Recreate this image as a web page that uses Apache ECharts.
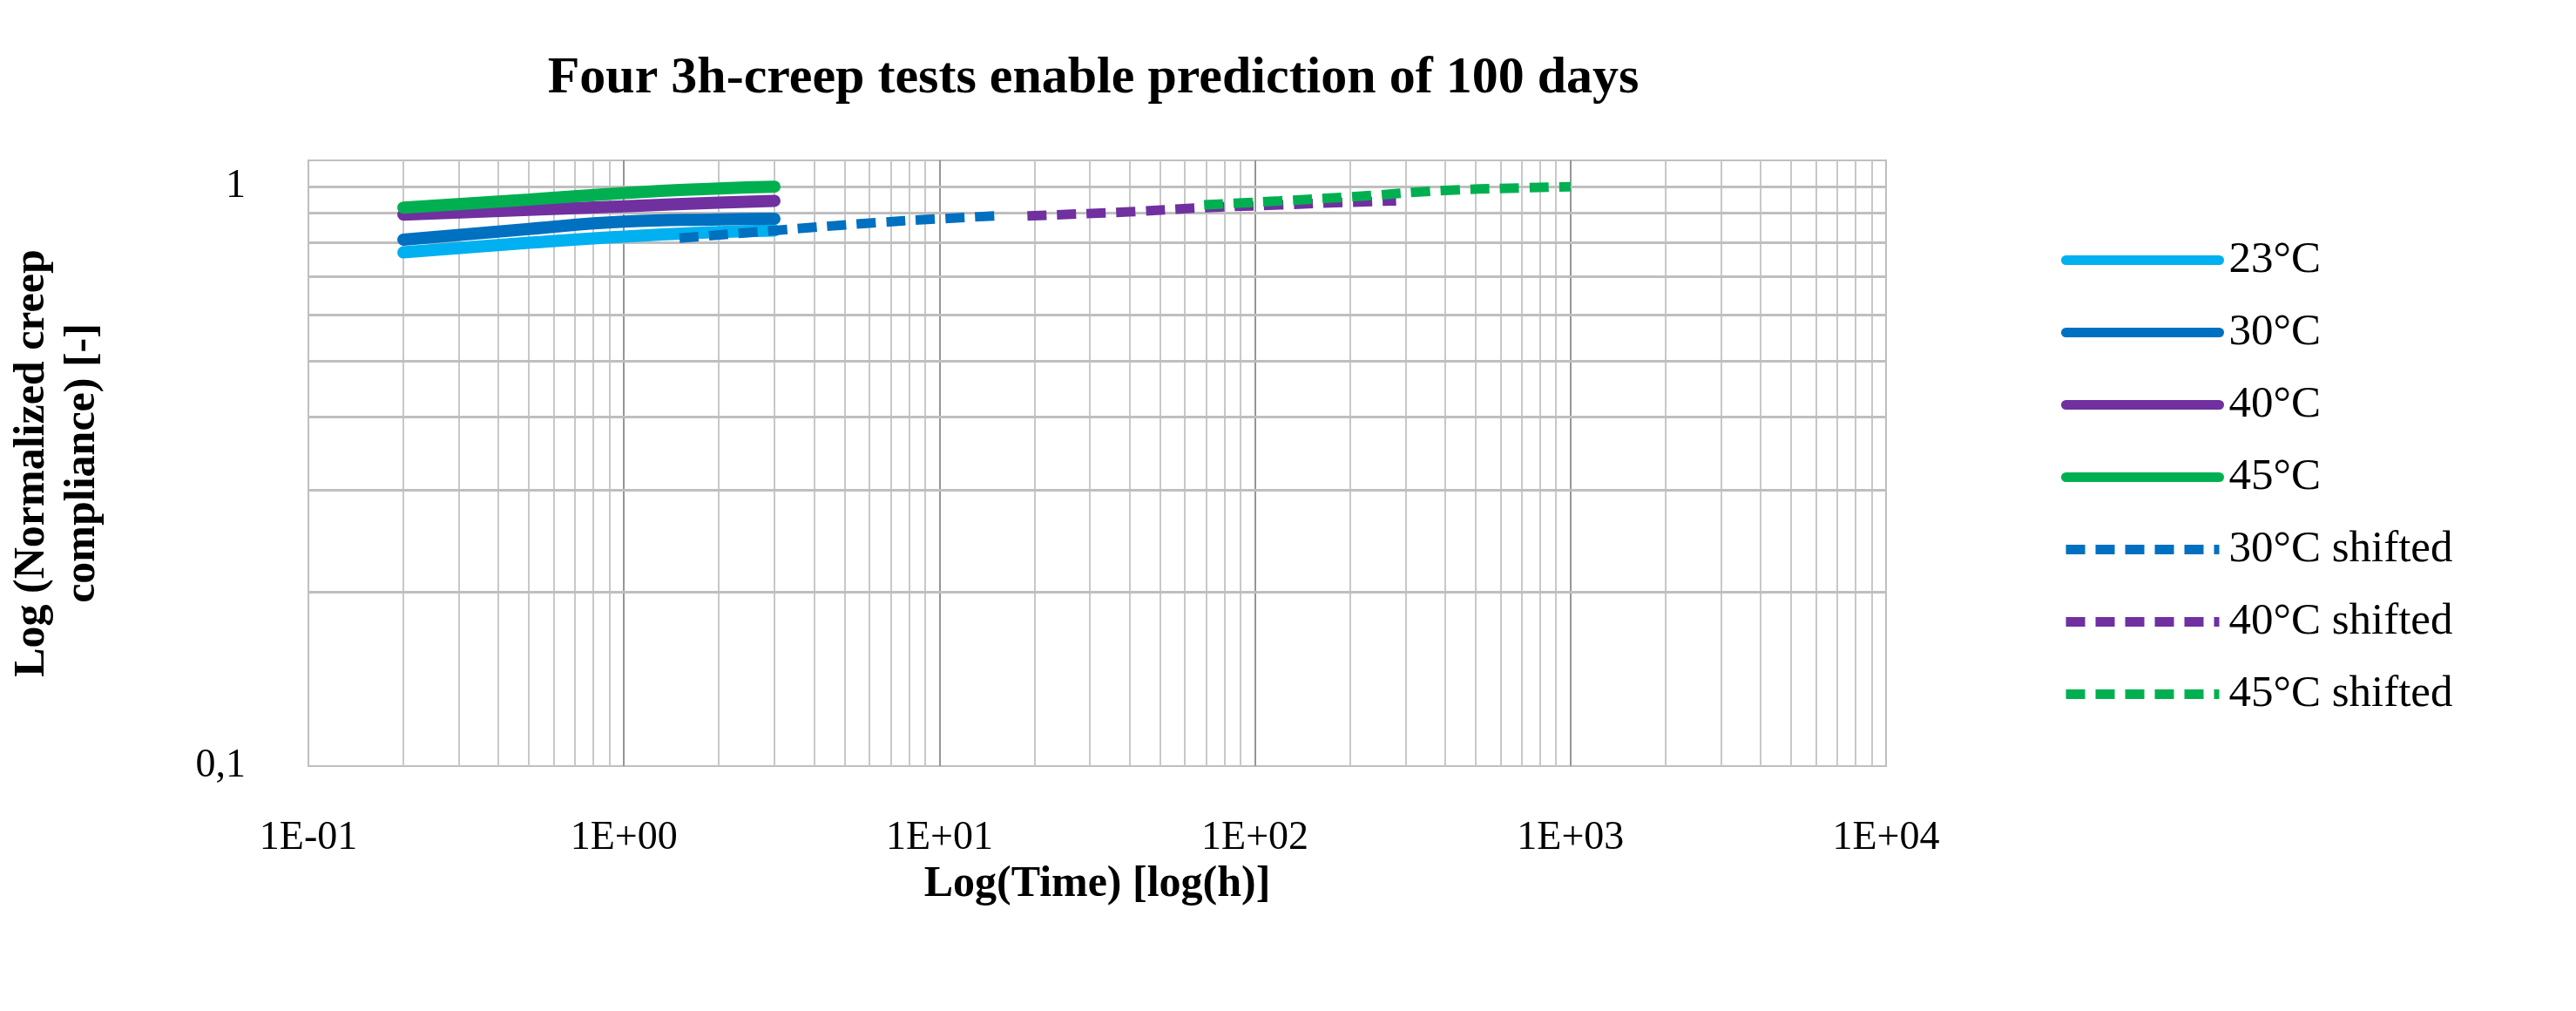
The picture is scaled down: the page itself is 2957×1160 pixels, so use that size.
<!DOCTYPE html>
<html><head><meta charset="utf-8">
<script src="https://cdn.jsdelivr.net/npm/echarts@6/dist/echarts.min.js"></script>
<style>html,body{margin:0;padding:0;background:#fff}#c{width:2957px;height:1160px}</style>
</head><body><div id="c"></div>
<script>
const t23 = [0.2, 0.5, 1, 2, 3];
const v23 = [0.77, 0.80, 0.82, 0.835, 0.84];
const t30 = [0.2, 0.5, 1, 2, 3];
const v30 = [0.81, 0.845, 0.87, 0.878, 0.88];
const t40 = [0.2, 0.5, 1, 2, 3];
const v40 = [0.895, 0.912, 0.925, 0.938, 0.945];
const t45 = [0.2, 0.5, 1, 2, 3];
const v45 = [0.92, 0.95, 0.975, 0.993, 1.0];
const t30s = [1.5, 3, 6, 10, 15];
const v30s = [0.815, 0.84, 0.865, 0.88, 0.89];
const t40s = [19, 40, 70, 120, 200, 280];
const v40s = [0.89, 0.905, 0.92, 0.93, 0.94, 0.945];
const t45s = [69, 120, 200, 400, 700, 1000];
const v45s = [0.93, 0.945, 0.96, 0.985, 0.995, 1.0];
const xTickLabels = {'-1':'1E-01','0':'1E+00','1':'1E+01','2':'1E+02','3':'1E+03','4':'1E+04'};

const pair = (t, v) => t.map((x, i) => [x, v[i]]);
const font = '"Liberation Serif", "DejaVu Serif", serif';

const minorX = [], majorX = [];
for (let e = -1; e < 4; e++) {
  for (let m = 2; m <= 9; m++) minorX.push(m * Math.pow(10, e));
  if (e > -1) majorX.push(Math.pow(10, e));
}
const gridY = [0.2,0.3,0.4,0.5,0.6,0.7,0.8,0.9,1];

const solid = (name, color, data) => ({
  name, type: 'line', data, showSymbol: false, symbol: 'none', smooth: true,
  lineStyle: { color, width: 14, cap: 'round' }, itemStyle: { color }, z: 5
});
const dashed = (name, color, data) => ({
  name, type: 'line', data, showSymbol: false, symbol: 'none', smooth: true,
  lineStyle: { color, width: 11, type: [22, 12], cap: 'butt' }, itemStyle: { color }, z: 6
});

const chart = echarts.init(document.getElementById('c'));
chart.setOption({
  animation: false,
  backgroundColor: '#fff',
  title: {
    text: 'Four 3h-creep tests enable prediction of 100 days',
    left: 1250, top: 55, textAlign: 'center',
    textStyle: { fontFamily: font, fontWeight: 'bold', fontSize: 60, color: '#000' }
  },
  grid: { left: 339, top: 184, width: 1826, height: 695, containLabel: false,
          show: true, borderColor: '#bfbfbf', borderWidth: 2 },
  legend: {
    orient: 'vertical', left: 2361, top: 268, itemWidth: 176, itemHeight: 14,
    itemGap: 32,
    itemStyle: { opacity: 0 },
    lineStyle: { width: 11 },
    textStyle: { fontFamily: font, fontSize: 51, color: '#000', padding: [0,0,0,6] },
    data: ['23°C','30°C','40°C','45°C','30°C shifted','40°C shifted','45°C shifted']
  },
  xAxis: {
    type: 'log', logBase: 10, min: 0.1, max: 10000,
    name: 'Log(Time) [log(h)]', nameLocation: 'middle', nameGap: 110,
    nameTextStyle: { fontFamily: font, fontWeight: 'bold', fontSize: 50, color: '#000' },
    axisLine: { show: false }, axisTick: { show: false }, splitLine: { show: false },
    axisLabel: { margin: 60, fontFamily: font, fontSize: 46, color: '#000',
      formatter: v => xTickLabels[String(Math.round(Math.log10(v)))] || '' }
  },
  yAxis: {
    type: 'log', logBase: 10, min: 0.1, max: 1.11,
    name: 'Log (Normalized creep\ncompliance) [-]', nameLocation: 'middle', nameGap: 230,
    nameTextStyle: { fontFamily: font, fontWeight: 'bold', fontSize: 50, color: '#000', lineHeight: 58 },
    axisLine: { show: false }, axisTick: { show: false }, splitLine: { show: false },
    axisLabel: { margin: 72, fontFamily: font, fontSize: 46, color: '#000', showMaxLabel: false,
      formatter: v => Math.abs(v - 0.1) < 1e-6 ? '0,1' : (Math.abs(v - 1) < 1e-6 ? '1' : '') }
  },
  series: [
    { name: 'grid', type: 'line', data: [], silent: true, z: 1,
      markLine: { silent: true, symbol: 'none', label: { show: false }, animation: false,
        data: [
          ...minorX.map(x => ({ xAxis: x, lineStyle: { color: '#c8c8c8', width: 2, type: 'solid' } })),
          ...majorX.map(x => ({ xAxis: x, lineStyle: { color: '#969696', width: 2, type: 'solid' } })),
          ...gridY.map(y => ({ yAxis: y, lineStyle: { color: '#bfbfbf', width: 3, type: 'solid' } }))
        ] } },
    solid('23°C', '#00B0F0', pair(t23, v23)),
    solid('30°C', '#0070C0', pair(t30, v30)),
    solid('40°C', '#7030A0', pair(t40, v40)),
    solid('45°C', '#00B050', pair(t45, v45)),
    dashed('30°C shifted', '#0070C0', pair(t30s, v30s)),
    dashed('40°C shifted', '#7030A0', pair(t40s, v40s)),
    dashed('45°C shifted', '#00B050', pair(t45s, v45s))
  ]
});
</script></body></html>
